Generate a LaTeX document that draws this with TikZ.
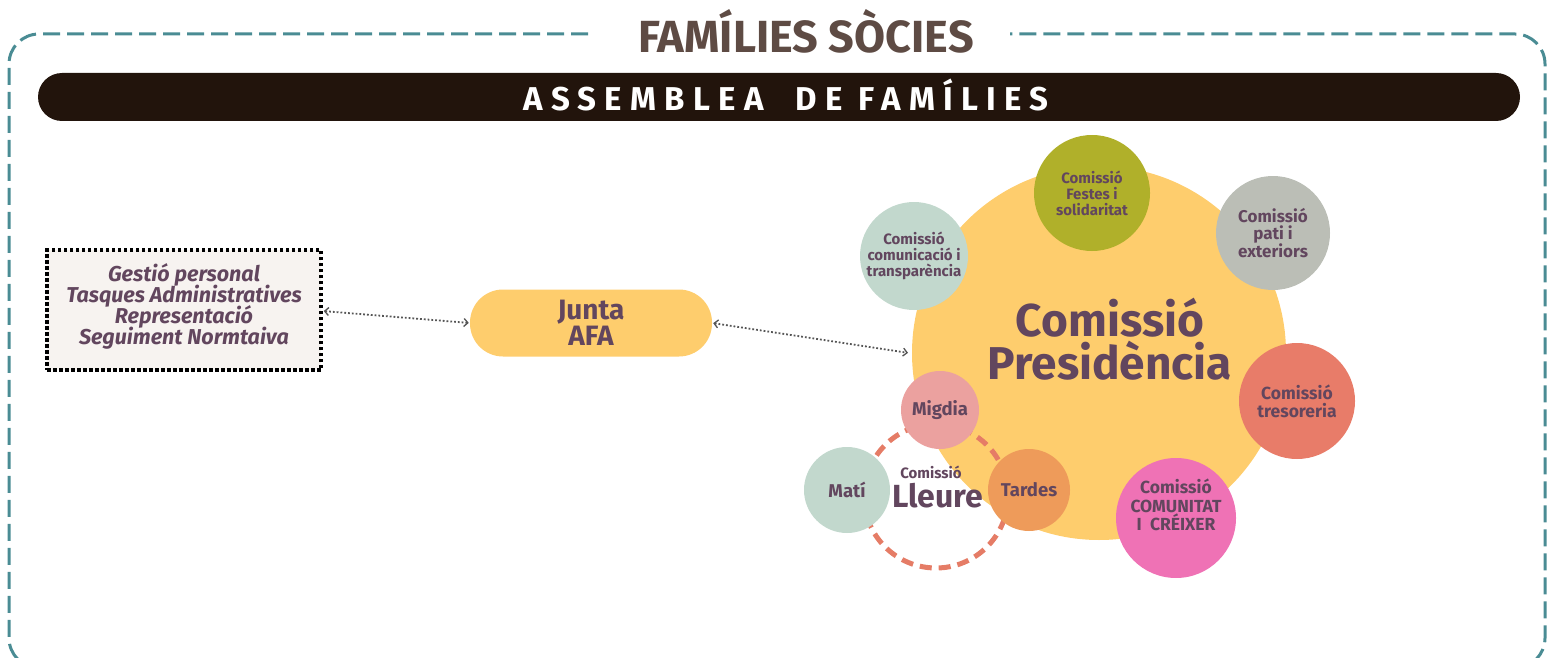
\documentclass[tikz,border=0pt]{standalone}
\usepackage{fontspec}
\setmainfont{Fira Sans}
\newfontfamily\spacedfont{Fira Sans}[LetterSpace=25]
\usetikzlibrary{arrows.meta}
\definecolor{teal}{HTML}{4A8C94}
\definecolor{titlebrown}{HTML}{5E4B44}
\definecolor{barblack}{HTML}{22140C}
\definecolor{purp}{HTML}{62465E}
\definecolor{yel}{HTML}{FECD6D}
\definecolor{mint}{HTML}{C2D8CD}
\definecolor{olive}{HTML}{B0B02A}
\definecolor{greyc}{HTML}{BBBEB6}
\definecolor{salmon}{HTML}{E87C69}
\definecolor{pinkc}{HTML}{EF72B5}
\definecolor{rosec}{HTML}{EBA19F}
\definecolor{orangec}{HTML}{EE9B5A}
\definecolor{dashred}{HTML}{E57C66}
\definecolor{boxfill}{HTML}{F7F3F0}
\definecolor{arrowgrey}{HTML}{555555}
\lineskiplimit=-100pt
\tikzset{
  every node/.append style={execute at begin node={\lineskiplimit=-100pt}},
  circ/.style={circle, inner sep=0pt, align=center, text=purp, font=\bfseries\fontsize{15}{16}\selectfont},
  conn/.style={draw=arrowgrey, line width=1.8pt, dotted, {Straight Barb[length=4pt,width=8pt,line width=1.3pt]}-{Straight Barb[length=4pt,width=8pt,line width=1.3pt]}, shorten <=1pt, shorten >=1pt},
}
\begin{document}
\begin{tikzpicture}[x=1pt,y=-1pt]
\useasboundingbox (0,0) rectangle (1547,658);
% outer dashed frame
\draw[teal, line width=3pt, dash pattern=on 17pt off 7pt, rounded corners=30pt]
  (588,34) -- (9,34) -- (9,668) -- (1545,668) -- (1545,34) -- (1010,34);
\node[text=titlebrown, font=\bfseries\fontsize{45}{46}\selectfont] (title) at (806,31) {FAMÍLIES SÒCIES};
% bar
\node[fill=barblack, rounded corners=24pt, minimum width=1482pt, minimum height=48pt, inner sep=0pt] (bar) at (779,97) {};
\node[text=white, font=\spacedfont\bfseries\fontsize{33}{34}\selectfont] (barlabel) at (786,95) {ASSEMBLEA\ \ DE FAMÍLIES};
% left box
\node[draw=black, fill=boxfill, line width=3.5pt, dash pattern=on 3.5pt off 2.5pt, minimum width=274pt, minimum height=120pt, inner sep=0pt] (box) at (184,310) {};
\node[align=center, text=purp, font=\bfseries\itshape\fontsize{21.5}{21}\selectfont] (boxtext) at (184,306)
 {Gestió personal\\Tasques Administratives\\Representació\\Seguiment Normtaiva};
% junta
\node[fill=yel, rounded corners=33pt, minimum width=242pt, minimum height=67pt, inner sep=0pt, align=center, text=purp, font=\bfseries\fontsize{28}{26}\selectfont] (junta) at (591,323) {Junta\\AFA};
% presidencia
\node[circ, fill=yel, minimum size=374pt] (pres) at (1099,353) {};
\node[text=purp, align=center, font=\bfseries\fontsize{46}{43}\selectfont] (preslabel) at (1110,339) {Comissió\\Presidència};
% satellite circles
\node[circ, fill=mint, minimum size=108pt] (comu) at (914,256) {Comissió\\comunicació i\\transparència};
\node[circ, fill=olive, minimum size=116pt] (fest) at (1092,193) {Comissió\\Festes i\\solidaritat};
\node[circ, fill=greyc, minimum size=114pt, font=\bfseries\fontsize{17}{17.5}\selectfont] (pati) at (1273,233) {Comissió\\pati i\\exteriors};
\node[circ, fill=salmon, minimum size=116pt, font=\bfseries\fontsize{17.5}{18}\selectfont] (treso) at (1297,401) {Comissió\\tresoreria};
\node[circ, fill=pinkc, minimum size=120pt, font=\bfseries\fontsize{17.5}{18.5}\selectfont] (crei) at (1176,518) {Comissió\\COMUNITAT\\I\ \ CRÉIXER\\[8pt]};
% lleure
\node[circle, draw=dashred, line width=5pt, dash pattern=on 12pt off 7pt, minimum size=144pt, inner sep=0pt] (lleure) at (936,496) {};
\node[circ, fill=rosec, minimum size=78pt, font=\bfseries\fontsize{18.5}{18}\selectfont] (migdia) at (940,410) {Migdia};
\node[circ, fill=mint, minimum size=86pt, font=\bfseries\fontsize{18.5}{18}\selectfont] (mati) at (847,490) {Matí};
\node[circ, fill=orangec, minimum size=82pt, font=\bfseries\fontsize{18.5}{18}\selectfont] (tardes) at (1029,490) {Tardes};
\node[text=purp, font=\bfseries\fontsize{15}{16}\selectfont] (lcom) at (931,472) {Comissió};
\node[text=purp, font=\bfseries\fontsize{32}{33}\selectfont] (lname) at (938,496) {Lleure};
% connectors
\coordinate (presw) at (909,353);
\draw[conn] (box.east |- 0,311) -- (junta.west);
\draw[conn] (junta.east) -- (presw);
\end{tikzpicture}
\end{document}
